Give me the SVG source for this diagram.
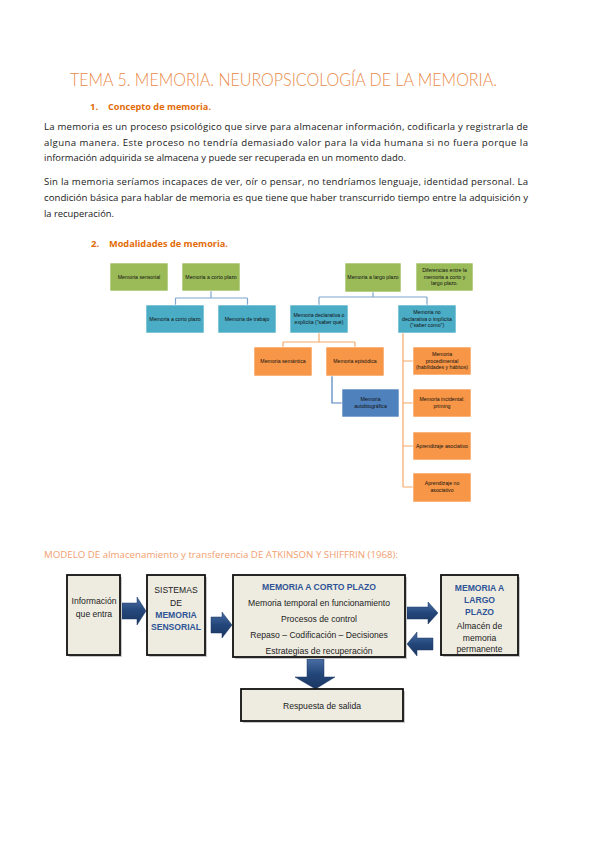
<svg xmlns="http://www.w3.org/2000/svg" width="600" height="848" viewBox="0 0 600 848">
<defs>
<style>
.title{font-family:"Lato","Open Sans",sans-serif;font-size:17px;font-weight:300;fill:#E98A48}
.h{font-family:"Open Sans","Liberation Sans",sans-serif;font-size:9.5px;font-weight:bold;fill:#E36C09}
.p{font-family:"Open Sans","Liberation Sans",sans-serif;font-size:9.6px;fill:#1a1a1a}
.m{font-family:"Open Sans","Liberation Sans",sans-serif;font-size:8.6px;fill:#F2A070}
.t{font-family:"Liberation Sans",Arial,sans-serif;font-size:5.2px;fill:#111;text-anchor:middle}
.g{fill:#9BBB59;stroke:#fff;stroke-width:0.6}
.b{fill:#4BACC6;stroke:#fff;stroke-width:0.6}
.o{fill:#F79646;stroke:#fff;stroke-width:0.6}
.db{fill:#4F81BD;stroke:#fff;stroke-width:0.6}
.cb{fill:none;stroke:#7FA6CC;stroke-width:1.2}
.co{fill:none;stroke:#F5A868;stroke-width:1.2}
.cd{fill:none;stroke:#4F81BD;stroke-width:1.2}
.bx{fill:#EEECE1;stroke:#111;stroke-width:1.8}
.sh{fill:#C8C8C8}
.a{fill:url(#ag);stroke:#1F3864;stroke-width:0.5}
.s{font-family:"Liberation Sans",Arial,sans-serif;font-size:8.6px;fill:#222;text-anchor:middle}
.sb{font-family:"Liberation Sans",Arial,sans-serif;font-size:8.6px;font-weight:bold;fill:#2E5496;text-anchor:middle}
</style>
<linearGradient id="ag" x1="0" y1="0" x2="0" y2="1">
<stop offset="0" stop-color="#4A6FA5"/>
<stop offset="0.5" stop-color="#23467A"/>
<stop offset="1" stop-color="#1A3660"/>
</linearGradient>
</defs>
<rect width="600" height="848" fill="#fff"/>

<text class="title" x="70" y="86" textLength="427" lengthAdjust="spacingAndGlyphs">TEMA 5.  MEMORIA. NEUROPSICOLOGÍA DE LA MEMORIA.</text>
<text class="h" x="90" y="110">1.</text>
<text class="h" x="108" y="110" textLength="103" lengthAdjust="spacingAndGlyphs">Concepto de memoria.</text>

<text class="p" x="44" y="130" textLength="484" lengthAdjust="spacing">La memoria es un proceso psicológico que sirve para almacenar información, codificarla y registrarla de</text>
<text class="p" x="44" y="146" textLength="484" lengthAdjust="spacing">alguna manera. Este proceso no tendría demasiado valor para la vida humana si no fuera porque la</text>
<text class="p" x="44" y="161" textLength="362" lengthAdjust="spacingAndGlyphs">información adquirida se almacena y puede ser recuperada en un momento dado.</text>
<text class="p" x="44" y="185" textLength="484" lengthAdjust="spacing">Sin la memoria seríamos incapaces de ver, oír o pensar, no tendríamos lenguaje, identidad personal. La</text>
<text class="p" x="44" y="201" textLength="484" lengthAdjust="spacingAndGlyphs">condición básica para hablar de memoria es que tiene que haber transcurrido tiempo entre la adquisición y</text>
<text class="p" x="44" y="217" textLength="70" lengthAdjust="spacingAndGlyphs">la recuperación.</text>

<text class="h" x="91" y="247">2.</text>
<text class="h" x="109" y="247" textLength="119" lengthAdjust="spacingAndGlyphs">Modalidades de memoria.</text>

<g id="connectors">
<path class="cb" d="M211 291V298M175.5 298H247.5M175.5 298V305M247.5 298V305"/>
<path class="cb" d="M373 292V297M319 297H427M319 297V305M427 297V305"/>
<path class="co" d="M319 333V342M283 342H355M283 342V347M355 342V347"/>
<path class="cd" d="M332 376V403H342"/>
<path class="co" d="M403 333V487M403 361H413M403 403H413M403 446H413M403 487H413"/>
</g>

<g id="n-sensorial"><rect class="g" x="110" y="263" width="58" height="28"/><text class="t" x="139" y="279">Memoria sensorial</text></g>
<g id="n-corto"><rect class="g" x="182" y="263" width="58" height="28"/><text class="t" x="211" y="279">Memoria a corto plazo</text></g>
<g id="n-largo"><rect class="g" x="345" y="263" width="56" height="29"/><text class="t" x="373" y="279">Memoria a largo plazo</text></g>
<g id="n-dif"><rect class="g" x="416" y="263" width="57" height="28"/><text class="t" x="444.5" y="272">Diferencias entre la</text><text class="t" x="444.5" y="278.5">memoria a corto y</text><text class="t" x="444.5" y="285">largo plazo.</text></g>
<g id="n-cp2"><rect class="b" x="146" y="305" width="58" height="28"/><text class="t" x="175" y="321">Memoria a corto plazo</text></g>
<g id="n-trabajo"><rect class="b" x="218" y="305" width="58" height="28"/><text class="t" x="247" y="321">Memoria de trabajo</text></g>
<g id="n-decl"><rect class="b" x="290" y="305" width="58" height="28"/><text class="t" x="319" y="317">Memoria declarativa o</text><text class="t" x="319" y="324">explícita ("saber qué)</text></g>
<g id="n-nodecl"><rect class="b" x="398" y="305" width="58" height="28"/><text class="t" x="427" y="314">Memoria no</text><text class="t" x="427" y="320.5">declarativa o implícita</text><text class="t" x="427" y="327">("saber como")</text></g>
<g id="n-sem"><rect class="o" x="254" y="347" width="58" height="29"/><text class="t" x="283" y="363">Memoria semántica</text></g>
<g id="n-epi"><rect class="o" x="326" y="347" width="58" height="29"/><text class="t" x="355" y="363">Memoria episódica</text></g>
<g id="n-auto"><rect class="db" x="342" y="389" width="57" height="28"/><text class="t" x="370.5" y="401">Memoria</text><text class="t" x="370.5" y="408">autobiográfica</text></g>
<g id="n-proc"><rect class="o" x="413" y="347" width="58" height="28"/><text class="t" x="442" y="356">Memoria</text><text class="t" x="442" y="362.5">procedimental</text><text class="t" x="442" y="369">(habilidades y hábitos)</text></g>
<g id="n-prim"><rect class="o" x="413" y="389" width="58" height="28"/><text class="t" x="442" y="401">Memoria incidental:</text><text class="t" x="442" y="408">priming</text></g>
<g id="n-asoc"><rect class="o" x="413" y="432" width="58" height="28"/><text class="t" x="442" y="448">Aprendizaje asociativo</text></g>
<g id="n-noasoc"><rect class="o" x="413" y="473" width="58" height="29"/><text class="t" x="442" y="485">Aprendizaje no</text><text class="t" x="442" y="492">asociativo</text></g>

<text class="m" x="44" y="558" textLength="354" lengthAdjust="spacingAndGlyphs">MODELO DE almacenamiento y transferencia DE ATKINSON Y SHIFFRIN (1968):</text>

<g id="arrows">
<path class="a" d="M122 603H137V597L146 611L137 625V619H122Z"/>
<path class="a" d="M211 617H222V612L232 625L222 638V633H211Z"/>
<path class="a" d="M407 607H428V602L438 613L428 624V619H407Z"/>
<path class="a" d="M433 638H417V632L407 644L417 656V650H433Z"/>
<path class="a" d="M307 659H324V677H335L315.5 689L295 677H307Z"/>
</g>

<g id="b-info"><rect class="sh" x="69" y="577" width="53" height="80"/><rect class="bx" x="67" y="575" width="53" height="80"/><text class="s" x="94" y="604">Información</text><text class="s" x="94" y="617">que entra</text></g>
<g id="b-sens"><rect class="sh" x="149" y="577" width="58" height="80"/><rect class="bx" x="147" y="575" width="58" height="80"/><text class="s" x="176" y="593">SISTEMAS</text><text class="s" x="176" y="606">DE</text><text class="sb" x="176" y="618">MEMORIA</text><text class="sb" x="176" y="630">SENSORIAL</text></g>
<g id="b-mcp"><rect class="sh" x="235" y="577" width="172" height="82"/><rect class="bx" x="233" y="575" width="172" height="82"/><text class="sb" x="319" y="590">MEMORIA A CORTO PLAZO</text><text class="s" x="319" y="606">Memoria temporal en funcionamiento</text><text class="s" x="319" y="622">Procesos de control</text><text class="s" x="319" y="638">Repaso – Codificación – Decisiones</text><text class="s" x="319" y="654">Estrategias de recuperación</text></g>
<g id="b-mlp"><rect class="sh" x="443" y="577" width="77" height="80"/><rect class="bx" x="441" y="575" width="77" height="80"/><text class="sb" x="479.5" y="591">MEMORIA A</text><text class="sb" x="479.5" y="603">LARGO</text><text class="sb" x="479.5" y="615">PLAZO</text><text class="s" x="479.5" y="629">Almacén de</text><text class="s" x="479.5" y="641">memoria</text><text class="s" x="479.5" y="652">permanente</text></g>
<g id="b-resp"><rect class="sh" x="243" y="691" width="162" height="32"/><rect class="bx" x="241" y="689" width="162" height="32"/><text class="s" x="322" y="709">Respuesta de salida</text></g>
</svg>
